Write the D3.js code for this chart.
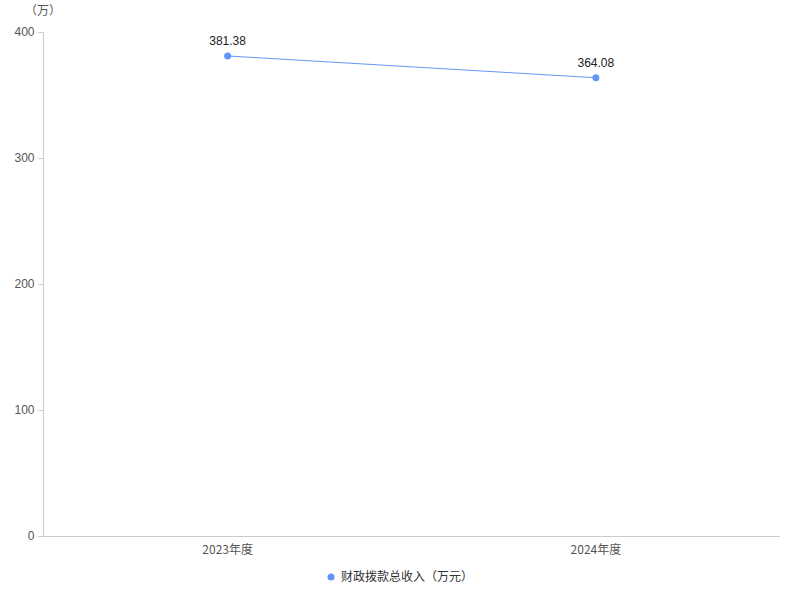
<!DOCTYPE html>
<html>
<head>
<meta charset="utf-8">
<script src="https://cdn.jsdelivr.net/npm/d3@7"></script>
<style>
  body { margin: 0; background: #fff; }
  text { font-family: "Noto Sans CJK SC", "Liberation Sans", sans-serif; }
</style>
</head>
<body>
<div id="chart"></div>
<script>
const categories = ["2023年度", "2024年度"];
const values = [381.38, 364.08];
const yTicks = [0, 100, 200, 300, 400];
const seriesName = "财政拨款总收入（万元）";
const unitLabel = "（万）";

const width = 800, height = 600;
const margin = { top: 32.5, right: 20, bottom: 63.5, left: 43.5 };

const svg = d3.select("#chart").append("svg")
    .attr("width", width)
    .attr("height", height);

const x = d3.scaleBand()
    .domain(categories)
    .range([margin.left, width - margin.right]);

const y = d3.scaleLinear()
    .domain([0, 400])
    .range([height - margin.bottom, margin.top]);

// y axis
const yAxis = svg.append("g")
    .attr("transform", `translate(${margin.left},0)`)
    .call(d3.axisLeft(y).tickValues(yTicks).tickSize(5).tickPadding(4).offset(0));
yAxis.select(".domain").attr("stroke", "#ccc");
yAxis.selectAll(".tick line").attr("stroke", "#ccc");
yAxis.selectAll(".tick text")
    .attr("fill", "#555")
    .attr("font-size", 12)
    .style("font-family", "Liberation Sans, sans-serif");

// x axis
const xAxis = svg.append("g")
    .attr("transform", `translate(0,${height - margin.bottom})`)
    .call(d3.axisBottom(x).tickSize(0).tickPadding(9).tickSizeOuter(0).offset(0));
xAxis.select(".domain").attr("stroke", "#ccc");
xAxis.selectAll(".tick text")
    .attr("fill", "#555")
    .attr("font-size", 12);

svg.append("text")
    .attr("x", 43)
    .attr("y", 15)
    .attr("text-anchor", "middle")
    .attr("fill", "#555")
    .attr("font-size", 12)
    .text(unitLabel);

const color = "#6395f9";
const pts = categories.map((c, i) => ({ c, v: values[i] }));

svg.append("path")
    .datum(pts)
    .attr("fill", "none")
    .attr("stroke", color)
    .attr("stroke-width", 1)
    .attr("d", d3.line()
        .x(d => x(d.c) + x.bandwidth() / 2)
        .y(d => y(d.v)));

svg.selectAll(".pt")
    .data(pts)
    .join("circle")
    .attr("class", "pt")
    .attr("cx", d => x(d.c) + x.bandwidth() / 2)
    .attr("cy", d => y(d.v))
    .attr("r", 3.5)
    .attr("fill", color);

svg.selectAll(".lbl")
    .data(pts)
    .join("text")
    .attr("class", "lbl")
    .attr("x", d => x(d.c) + x.bandwidth() / 2)
    .attr("y", d => y(d.v) - 11)
    .attr("text-anchor", "middle")
    .attr("fill", "#222")
    .attr("font-size", 12)
    .style("font-family", "Liberation Sans, sans-serif")
    .text(d => d.v.toFixed(2));

// legend
const legend = svg.append("g").attr("transform", "translate(331,577)");
legend.append("circle").attr("r", 3.5).attr("fill", color);
legend.append("text")
    .attr("x", 10)
    .attr("y", 4)
    .attr("fill", "#333")
    .attr("font-size", 12)
    .text(seriesName);
</script>
</body>
</html>
